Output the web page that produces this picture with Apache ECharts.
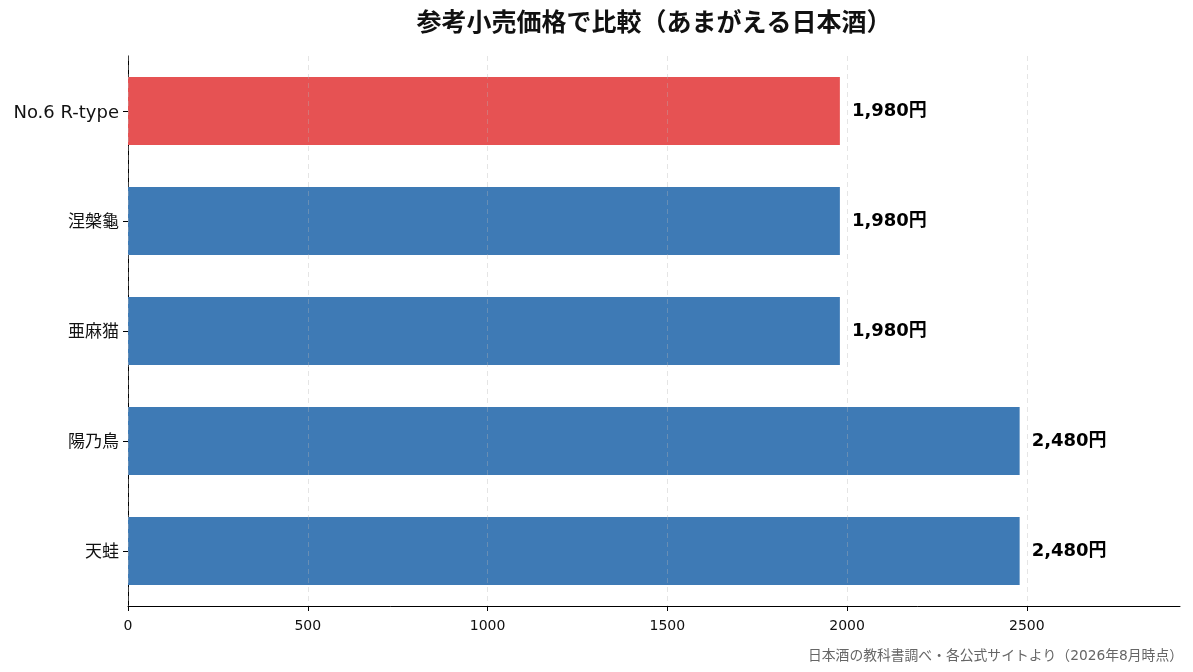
<!DOCTYPE html>
<html>
<head>
<meta charset="utf-8">
<script src="https://cdn.jsdelivr.net/npm/echarts@6/dist/echarts.min.js"></script>
<style>
	html, body { margin: 0; padding: 0; background: #fff; }
	#chart { width: 1193px; height: 672px; }
</style>
</head>
<body>
<div id="chart"></div>
<script>
	// 銘柄と参考小売価格(円)
	var names = ["No.6 R-type", "涅槃龜", "亜麻猫", "陽乃鳥", "天蛙"];
	var prices = [1980, 1980, 1980, 2480, 2480];
	var highlight = "No.6 R-type";
	var xTicks = [0, 500, 1000, 1500, 2000, 2500];

	// 欧文はDejaVu、和文はNoto CJK
	var FONT = "'DejaVu Sans', 'Noto Sans CJK JP', sans-serif";

	var chart = echarts.init(document.getElementById("chart"));

	var barData = [];
	for (var i = 0; i < names.length; i++) {
		barData.push({
			value: prices[i],
			itemStyle: { color: names[i] === highlight ? "#E65253" : "#3E7AB5" }
		});
	}

	chart.setOption({
		animation: false,
		textStyle: { fontFamily: FONT },
		title: [{
			text: "参考小売価格で比較（あまがえる日本酒）",
			left: 649, top: 7, textAlign: "center",
			textStyle: { fontSize: 25, fontWeight: "bold", color: "#111", fontFamily: FONT }
		}, {
			text: "日本酒の教科書調べ・各公式サイトより（2026年8月時点）",
			right: 5, top: 645,
			textStyle: { fontSize: 13.8, fontWeight: "normal", color: "#666", fontFamily: FONT }
		}],
		grid: { left: 128, right: 13, top: 56, bottom: 66 },
		xAxis: {
			type: "value",
			min: 0, max: 2926,
			z: 3,
			axisLine: { show: true, lineStyle: { color: "#000", width: 1 } },
			axisTick: { show: true, length: 5, lineStyle: { color: "#000" }, customValues: xTicks },
			axisLabel: {
				color: "#111", fontSize: 14, margin: 13, customValues: xTicks, fontFamily: FONT,
				formatter: function (v) { return String(v); }
			},
			splitLine: { show: true, lineStyle: { color: "rgba(180,180,180,0.35)", type: [5, 4], width: 1 } }
		},
		yAxis: {
			type: "category",
			data: names,
			inverse: true,
			axisLine: { show: true, lineStyle: { color: "#000", width: 1 } },
			axisTick: { show: true, alignWithLabel: true, length: 5, lineStyle: { color: "#000" } },
			axisLabel: {
				color: "#111", fontSize: 17, margin: 9, fontFamily: FONT,
				padding: [4, 0, 0, 0],
				formatter: function (v) {
					return v === highlight ? "{big|" + v + "}" : v;
				},
				rich: { big: { fontSize: 18, color: "#111", fontFamily: FONT } }
			},
			splitLine: { show: false }
		},
		series: [{
			type: "bar",
			data: barData,
			barWidth: 68,
			label: {
				show: true,
				position: "right",
				distance: 12,
				fontSize: 18,
				fontWeight: "bold",
				color: "#000",
				fontFamily: FONT,
				formatter: function (p) {
					return p.value.toLocaleString("en-US") + "円";
				}
			}
		}]
	});
</script>
</body>
</html>
